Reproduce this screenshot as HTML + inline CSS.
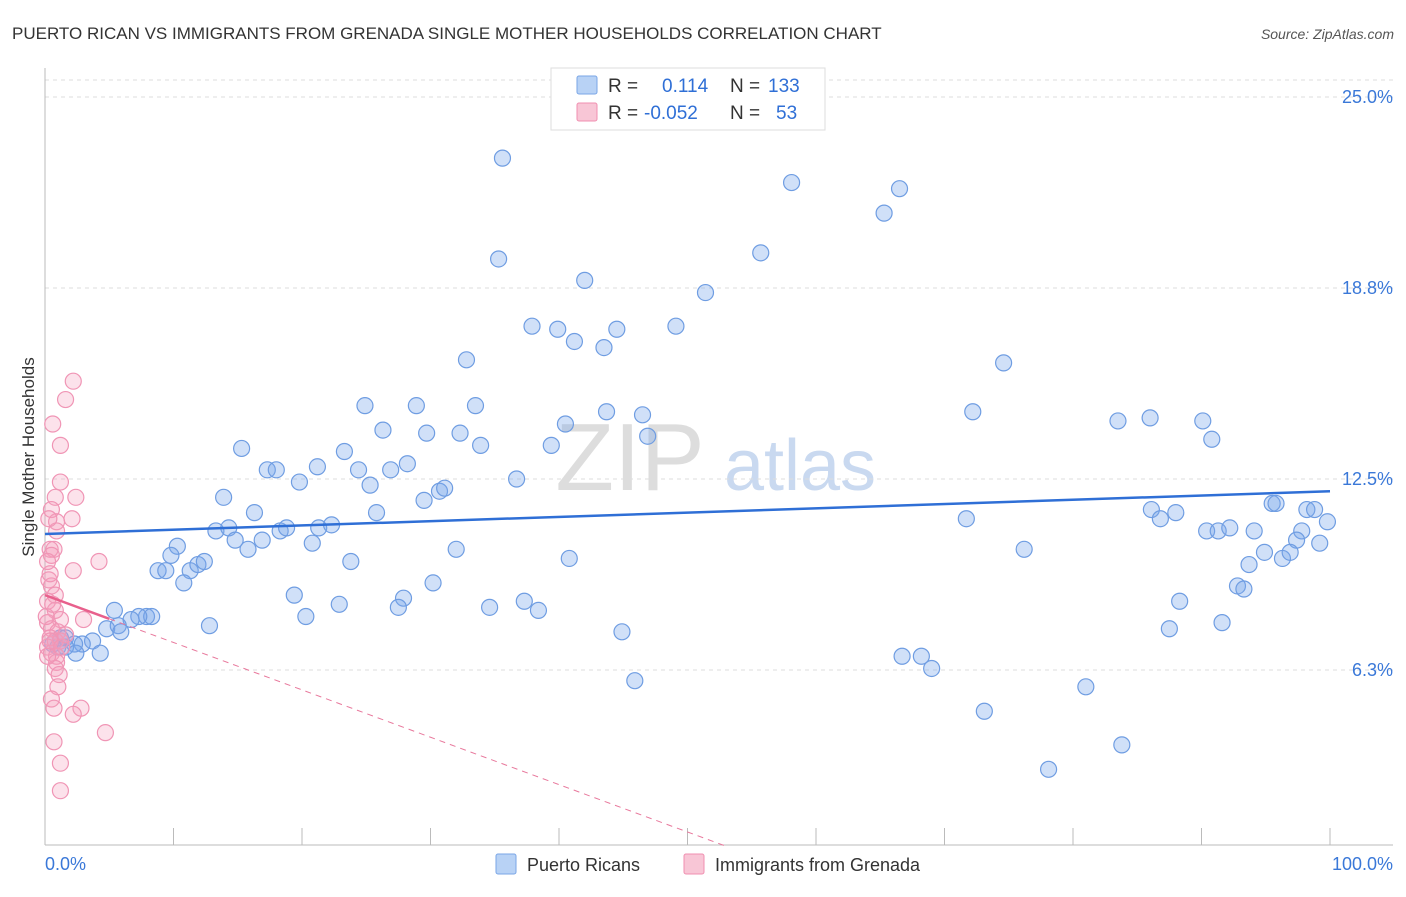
<!DOCTYPE html>
<html><head><meta charset="utf-8"><style>
body{margin:0;background:#fff;font-family:"Liberation Sans",sans-serif;}
svg text{font-family:"Liberation Sans",sans-serif;}
</style></head><body>
<svg id="c" width="1406" height="892">
<text x="12" y="39" font-size="17" fill="#333">PUERTO RICAN VS IMMIGRANTS FROM GRENADA SINGLE MOTHER HOUSEHOLDS CORRELATION CHART</text>
<text x="1394" y="39" font-size="14" fill="#555" font-style="italic" text-anchor="end">Source: ZipAtlas.com</text>
<text x="0" y="0" transform="translate(34,457) rotate(-90)" font-size="17" fill="#333" text-anchor="middle">Single Mother Households</text>
<text x="630" y="490" font-size="96" fill="#ddd" text-anchor="middle" font-family="Liberation Serif">ZIP</text>
<text x="800" y="490" font-size="72" fill="#c9d9f0" text-anchor="middle">atlas</text>
<g id="grid"></g><g id="axes"></g><g id="pts"></g><g id="trend"></g>
<g>
<rect x="551" y="68" width="274" height="62" fill="#fff" stroke="#ddd"/>
<rect x="577" y="76" width="20" height="18" fill="#b8d2f5" stroke="#7aa6e6" rx="2"/>
<rect x="577" y="103" width="20" height="18" fill="#f8c6d6" stroke="#f08fb0" rx="2"/>
<text x="608" y="92" font-size="19" fill="#333">R = <tspan fill="#2f6fd6" x="662">0.114</tspan><tspan fill="#333" x="730">N = </tspan><tspan fill="#2f6fd6" x="768">133</tspan></text>
<text x="608" y="119" font-size="19" fill="#333">R = <tspan fill="#2f6fd6" x="644">-0.052</tspan><tspan fill="#333" x="730">N = </tspan><tspan fill="#2f6fd6" x="776">53</tspan></text>
</g>
<g>
<rect x="496" y="854" width="20" height="20" fill="#b8d2f5" stroke="#7aa6e6" rx="2"/>
<text x="527" y="871" font-size="18" fill="#333">Puerto Ricans</text>
<rect x="684" y="854" width="20" height="20" fill="#f8c6d6" stroke="#f08fb0" rx="2"/>
<text x="715" y="871" font-size="18" fill="#333">Immigrants from Grenada</text>
</g>
</svg>
<script>
const yTicks=[6.25,12.5,18.75,25];
const yTickLabels=["6.3%","12.5%","18.8%","25.0%"];
const blueX=[35.6,58.1,66.5,65.3,35.3,55.7,42.0,51.4,37.9,39.9,44.5,49.1,41.2,43.5,32.8,74.6,24.9,28.9,33.5,43.7,46.5,72.2,40.5,26.3,29.7,32.3,83.5,86.0,90.1,90.8,46.9,33.9,39.4,15.3,23.3,21.2,17.3,18.0,24.4,26.9,28.2,36.7,19.8,25.3,30.7,31.1,29.5,13.9,25.8,16.3,71.7,86.1,86.8,88.0,95.5,95.8,98.2,98.8,99.8,13.3,14.3,18.3,18.8,21.3,22.3,14.8,15.8,16.9,20.8,10.3,9.8,32.0,76.2,90.4,91.3,92.2,94.1,97.8,97.4,99.2,94.9,96.3,96.9,8.8,9.4,11.3,11.9,12.4,23.8,40.8,93.7,10.8,30.2,92.8,93.3,19.4,37.3,27.9,22.9,27.5,34.6,38.4,88.3,20.3,5.4,7.9,8.3,7.3,6.7,12.8,4.8,5.7,5.9,91.6,87.5,44.9,1.2,1.6,3.7,2.9,2.3,0.6,1.0,1.6,2.4,4.3,66.7,68.2,69.0,45.9,81.0,73.1,83.8,78.1];
const blueY=[23.0,22.2,22.0,21.2,19.7,19.9,19.0,18.6,17.5,17.4,17.4,17.5,17.0,16.8,16.4,16.3,14.9,14.9,14.9,14.7,14.6,14.7,14.3,14.1,14.0,14.0,14.4,14.5,14.4,13.8,13.9,13.6,13.6,13.5,13.4,12.9,12.8,12.8,12.8,12.8,13.0,12.5,12.4,12.3,12.1,12.2,11.8,11.9,11.4,11.4,11.2,11.5,11.2,11.4,11.7,11.7,11.5,11.5,11.1,10.8,10.9,10.8,10.9,10.9,11.0,10.5,10.2,10.5,10.4,10.3,10.0,10.2,10.2,10.8,10.8,10.9,10.8,10.8,10.5,10.4,10.1,9.9,10.1,9.5,9.5,9.5,9.7,9.8,9.8,9.9,9.7,9.1,9.1,9.0,8.9,8.7,8.5,8.6,8.4,8.3,8.3,8.2,8.5,8.0,8.2,8.0,8.0,8.0,7.9,7.7,7.6,7.7,7.5,7.8,7.6,7.5,7.3,7.3,7.2,7.1,7.1,7.1,7.0,7.0,6.8,6.8,6.7,6.7,6.3,5.9,5.7,4.9,3.8,3.0];
const pinkX=[2.2,1.6,0.6,1.2,1.2,0.8,2.4,0.5,0.9,2.1,0.9,0.7,0.4,0.5,4.2,2.2,0.3,0.5,0.8,0.2,0.8,1.2,3.0,0.2,0.5,1.0,0.4,0.8,1.2,0.2,0.5,0.9,0.9,0.8,1.1,1.0,0.5,0.7,2.8,2.2,4.7,0.7,1.2,1.2,0.2,0.4,1.3,1.6,0.1,0.6,0.4,0.2,0.3];
const pinkY=[15.7,15.1,14.3,13.6,12.4,11.9,11.9,11.5,11.1,11.2,10.8,10.2,10.2,10.0,9.8,9.5,9.2,9.0,8.7,8.5,8.2,7.9,7.9,7.8,7.6,7.5,7.3,7.2,7.2,7.0,6.8,6.7,6.5,6.3,6.1,5.7,5.3,5.0,5.0,4.8,4.2,3.9,3.2,2.3,6.7,7.2,7.0,7.4,8.0,8.4,9.4,9.8,11.2];
const blueTrend=[10.7,12.1];
const pinkTrend=[8.7,0.5]; const pinkTrendEndX=52.9; const pinkSolidEndX=5;
const NS="http://www.w3.org/2000/svg";
const X0=45,X1=1330,Y0=861,PY=30.56;
const sx=v=>X0+v/100*(X1-X0);
const sy=v=>Y0-v*PY;
function mk(tag,attrs,parent){const e=document.createElementNS(NS,tag);for(const k in attrs)e.setAttribute(k,attrs[k]);document.getElementById(parent).appendChild(e);return e;}
// grid
let g=mk('line',{x1:45,x2:1393,y1:80,y2:80,stroke:'#ddd','stroke-dasharray':'4,4'},'grid');


yTicks.forEach((t,i)=>{
 const l=mk('line',{x1:45,x2:1393,y1:sy(t),y2:sy(t),stroke:'#ddd','stroke-dasharray':'4,4'},'grid');
 
 
 const tx=mk('text',{x:1393,y:sy(t)+6,'font-size':18,fill:'#3a78d8','text-anchor':'end'},'grid');
 tx.textContent=yTickLabels[i];
 
 
});
let a=mk('line',{x1:45,x2:45,y1:68,y2:845,stroke:'#bbb'},'axes');


a=mk('line',{x1:45,x2:1393,y1:845,y2:845,stroke:'#bbb'},'axes');


for(let i=0;i<=10;i++){const t=mk('line',{x1:sx(i*10),x2:sx(i*10),y1:828,y2:845,stroke:'#bbb'},'axes');
 
 }
let xl=mk('text',{x:45,y:870,'font-size':18,fill:'#3a78d8'},'axes');xl.textContent='0.0%';


xl=mk('text',{x:1393,y:870,'font-size':18,fill:'#3a78d8','text-anchor':'end'},'axes');xl.textContent='100.0%';


blueX.forEach((x,i)=>{const c=mk('circle',{cx:sx(x),cy:sy(blueY[i]),r:8,fill:'rgba(120,165,235,0.35)',stroke:'#6f9de2','stroke-width':1.2},'pts');
 
 });
pinkX.forEach((x,i)=>{const c=mk('circle',{cx:sx(x),cy:sy(pinkY[i]),r:8,fill:'rgba(245,160,190,0.3)',stroke:'#f095b5','stroke-width':1.2},'pts');
 
 });
let t=mk('line',{x1:sx(0),y1:sy(blueTrend[0]),x2:sx(100),y2:sy(blueTrend[1]),stroke:'#2f6fd6','stroke-width':2.5},'trend');


const pAt=x=>pinkTrend[0]+(pinkTrend[1]-pinkTrend[0])*x/pinkTrendEndX;
t=mk('line',{x1:sx(0),y1:sy(pinkTrend[0]),x2:sx(pinkSolidEndX),y2:sy(pAt(pinkSolidEndX)),stroke:'#e8608c','stroke-width':2.5},'trend');


t=mk('line',{x1:sx(pinkSolidEndX),y1:sy(pAt(pinkSolidEndX)),x2:sx(pinkTrendEndX),y2:sy(pinkTrend[1]),stroke:'#e8789c','stroke-width':1,'stroke-dasharray':'6,5'},'trend');


</script>
</body></html>
